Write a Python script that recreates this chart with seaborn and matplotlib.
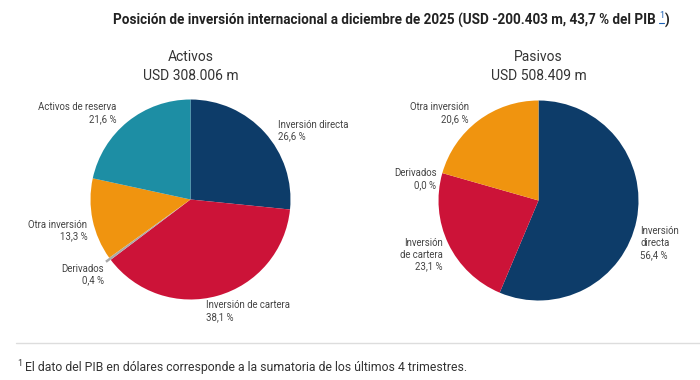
#! /usr/bin/env python3
import seaborn as sns
import matplotlib.pyplot as plt
from matplotlib.lines import Line2D

# Data
ACTIVOS_LABELS = ["Inversión directa", "Inversión de cartera", "Derivados", "Otra inversión", "Activos de reserva"]
ACTIVOS_VALUES = [26.6, 38.1, 0.4, 13.3, 21.6]
ACTIVOS_TOTAL = "USD 308.006 m"

PASIVOS_LABELS = ["Inversión directa", "Inversión de cartera", "Derivados", "Otra inversión"]
PASIVOS_VALUES = [56.4, 23.1, 0.0, 20.6]
PASIVOS_TOTAL = "USD 508.409 m"

TITLE = "Posición de inversión internacional a diciembre de 2025 (USD -200.403 m, 43,7 % del PIB "
FOOTNOTE = "El dato del PIB en dólares corresponde a la sumatoria de los últimos 4 trimestres."

COLOURS = {"Inversión directa": "#0d3c69",
           "Inversión de cartera": "#cc1338",
           "Derivados": "#a9a9a9",
           "Otra inversión": "#f0940f",
           "Activos de reserva": "#1d8ea4"}

# label text placement (pie units, radius = 1) and alignment
ACTIVOS_TEXT = {"Inversión directa": ("Inversión directa", 0.87, 0.69, "left"),
                "Inversión de cartera": ("Inversión de cartera", 0.15, -1.12, "left"),
                "Derivados": ("Derivados", -0.87, -0.75, "right"),
                "Otra inversión": ("Otra inversión", -1.03, -0.31, "right"),
                "Activos de reserva": ("Activos de reserva", -0.74, 0.86, "right")}
PASIVOS_TEXT = {"Inversión directa": ("Inversión\ndirecta", 1.02, -0.43, "left"),
                "Inversión de cartera": ("Inversión\nde cartera", -0.96, -0.54, "right"),
                "Derivados": ("Derivados", -1.02, 0.21, "right"),
                "Otra inversión": ("Otra inversión", -0.70, 0.87, "right")}

W, H = 700, 380


def fmt(v):
    return f"{v:.1f}".replace(".", ",") + " %"


def draw_pie(fig, cx, cy, labels, values, text_map, name, total):
    # axes where 1 data unit = 100 px
    ax = fig.add_axes([(cx - 150) / W, (H - cy - 150) / H, 300 / W, 300 / H])
    explode = [0.05 if l == "Derivados" else 0 for l in labels]
    ax.pie(values, colors=[COLOURS[l] for l in labels], startangle=90, counterclock=False,
           explode=explode, wedgeprops=dict(linewidth=0))
    ax.set_xlim(-1.5, 1.5)
    ax.set_ylim(-1.5, 1.5)
    ax.set_aspect("equal")
    ax.axis("off")
    for l, v in zip(labels, values):
        txt, x, y, ha = text_map[l]
        ax.text(x, y, txt + "\n" + fmt(v), ha=ha, va="center", fontsize=6.9,
                color="#444444", linespacing=1.25, clip_on=False)
    fig.text(cx / W, 1 - 57 / H, name, ha="center", va="center", fontsize=10, color="#333333")
    fig.text(cx / W, 1 - 76 / H, total, ha="center", va="center", fontsize=10, color="#333333")


def main():
    sns.set_theme(style="white")
    plt.rcParams["font.family"] = ["Roboto", "DejaVu Sans"]

    fig = plt.figure(figsize=(W / 100, H / 100), dpi=100)
    fig.patch.set_facecolor("white")

    draw_pie(fig, 190.5, 199.5, ACTIVOS_LABELS, ACTIVOS_VALUES, ACTIVOS_TEXT, "Activos", ACTIVOS_TOTAL)
    draw_pie(fig, 538.5, 200.5, PASIVOS_LABELS, PASIVOS_VALUES, PASIVOS_TEXT, "Pasivos", PASIVOS_TOTAL)

    # Title with a blue footnote marker
    renderer = fig.canvas.get_renderer()
    t1 = fig.text(113 / W, 1 - 20 / H, TITLE, ha="left", va="center", fontsize=9.75,
                  fontweight="bold", color="#222222")
    x1 = t1.get_window_extent(renderer).x1
    t2 = fig.text(x1 / W, 1 - 16 / H, "1", ha="left", va="center", fontsize=6.5,
                  color="#1a5fb4")
    x2 = t2.get_window_extent(renderer).x1
    fig.add_artist(Line2D([x1 / W, x2 / W], [1 - 23 / H] * 2, color="#1a5fb4", lw=0.8))
    fig.text(x2 / W + 1 / W, 1 - 20 / H, ")", ha="left", va="center", fontsize=9.75,
             fontweight="bold", color="#222222")

    # separator and footnote
    fig.add_artist(Line2D([16 / W, 1], [1 - 343 / H] * 2, color="#dddddd", lw=1))
    fig.text(17 / W, 1 - 363 / H, "1", ha="left", va="center", fontsize=6.3, color="#333333")
    fig.text(25 / W, 1 - 367 / H, FOOTNOTE, ha="left", va="center", fontsize=8.8, color="#333333")

    fig.savefig("out.png", dpi=100)


if __name__ == "__main__":
    main()
